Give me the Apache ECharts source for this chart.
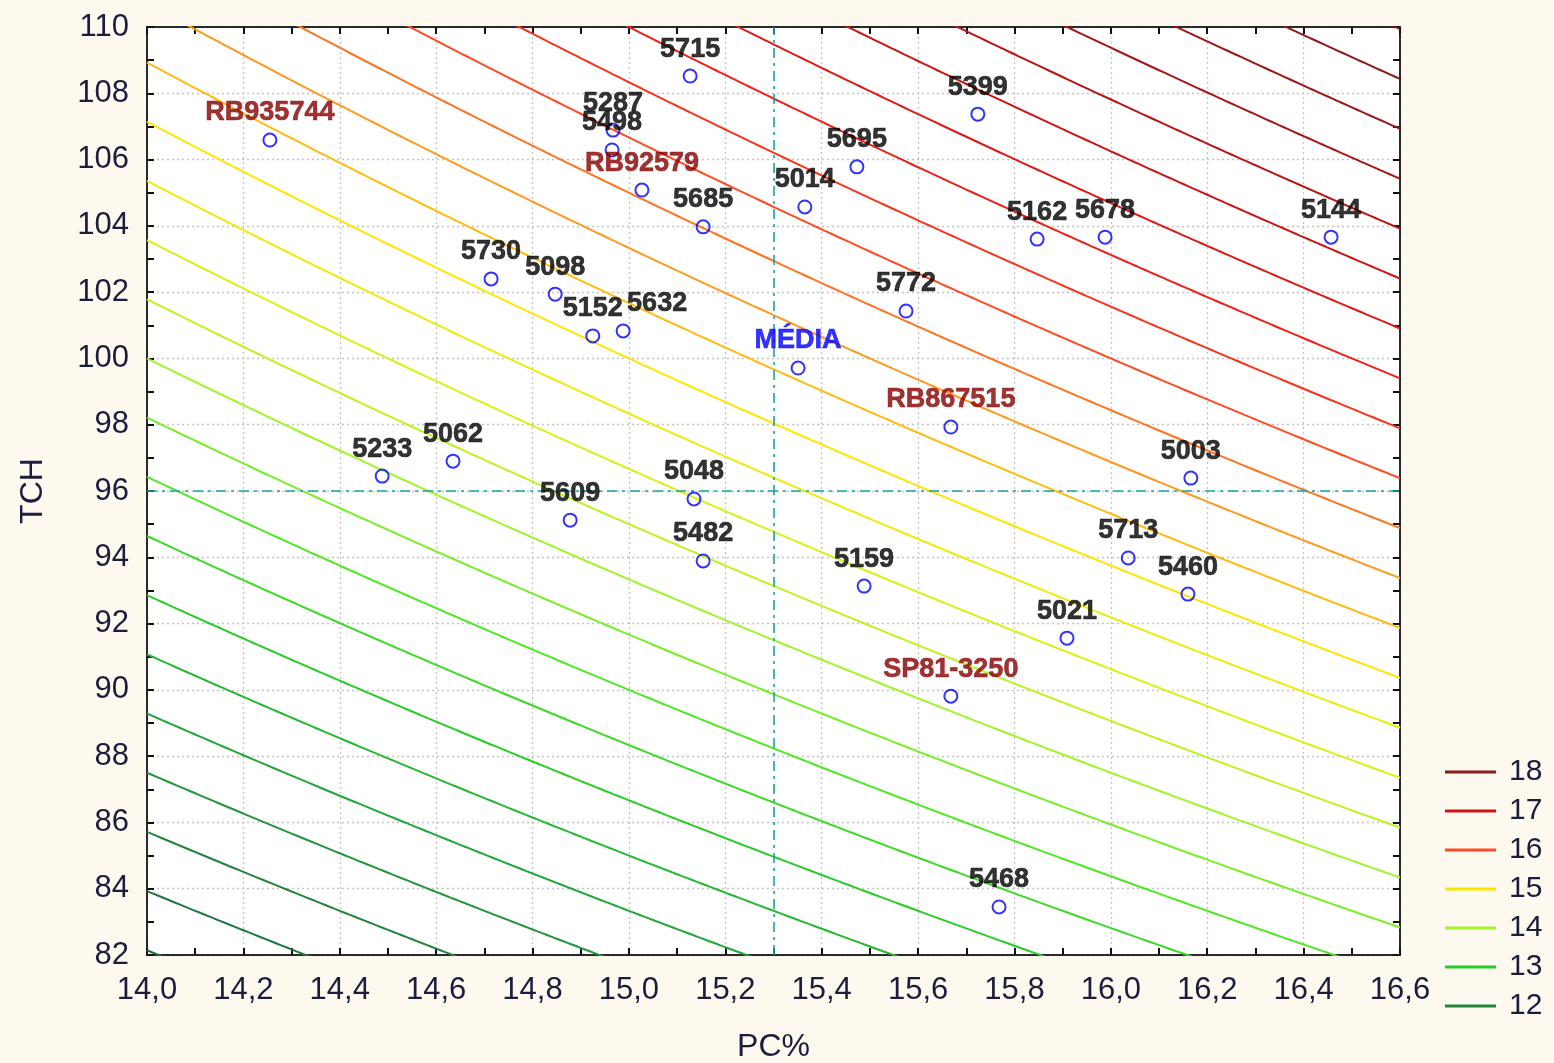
<!DOCTYPE html>
<html>
<head>
<meta charset="utf-8">
<script src="https://cdn.jsdelivr.net/npm/echarts@6/dist/echarts.min.js"></script>
<style>
html,body{margin:0;padding:0;background:#fdf9ef;}
#chart{width:1554px;height:1063px;}
</style>
</head>
<body>
<div id="chart"></div>
<script>
// ---- data ----
const names = ['RB935744','5715','5287','5498','RB92579','5685','5014','5695','5399','5162','5678','5144',
  '5730','5098','5152','5632','5772','MÉDIA','RB867515','5003','5233','5062','5609','5048','5482','5159',
  '5713','5460','5021','SP81-3250','5468'];
const pcValues = [14.255,15.127,14.967,14.965,15.027,15.154,15.365,15.473,15.724,15.847,15.988,16.457,
  14.714,14.847,14.925,14.988,15.575,15.351,15.668,16.166,14.488,14.635,14.878,15.135,15.154,15.488,
  16.036,16.160,15.909,15.668,15.768];
const tchValues = [106.59,108.52,106.89,106.29,105.08,103.97,104.57,105.78,107.37,103.60,103.66,103.66,
  102.40,101.94,100.68,100.83,101.43,99.71,97.93,96.39,96.45,96.90,95.12,95.76,93.89,93.13,
  93.98,92.89,91.56,89.81,83.45];
const meanPC = 15.3;
const meanTCH = 96;
// contour levels of TPH = PC% * TCH / 100
const levels = [11.5,11.75,12,12.25,12.5,12.75,13,13.25,13.5,13.75,14,14.25,14.5,14.75,15,
  15.25,15.5,15.75,16,16.25,16.5,16.75,17,17.25,17.5,17.75,18,18.25];
const legendLevels = ['18','17','16','15','14','13','12'];
const xTicks = {min:14.0, max:16.6, step:0.2};
const yTicks = {min:82, max:110, step:2};

// ---- style ----
const colorStops = [
  [11.5,'#1d6a44'],[12,'#23843f'],[12.5,'#22a63a'],[13,'#28cc28'],[13.5,'#4fe825'],
  [14,'#a0f52a'],[14.5,'#d9f215'],[15,'#ffe600'],[15.25,'#ffbb10'],[15.5,'#ff9a1c'],
  [15.75,'#ff7420'],[16,'#ff4a22'],[16.5,'#ee2018'],[17,'#cc1414'],[17.5,'#a81616'],[18,'#8b1a1a'],[18.25,'#7a1818']
];
function hex(c){return [1,3,5].map(i=>parseInt(c.substr(i,2),16));}
function levelColor(v){
  for(let i=0;i<colorStops.length-1;i++){
    const [a,ca]=colorStops[i],[b,cb]=colorStops[i+1];
    if(v>=a && v<=b){
      const t=(v-a)/(b-a); const A=hex(ca),B=hex(cb);
      return 'rgb('+A.map((x,k)=>Math.round(x+(B[k]-x)*t)).join(',')+')';
    }
  }
  return colorStops[colorStops.length-1][1];
}
const labelOffsets = {'5632':[34,0]};
function labelColor(n){
  if(n==='MÉDIA') return '#0000ff';
  if(/^(RB|SP)/.test(n)) return '#870000';
  return '#000000';
}
const fmt = v => v.toFixed(1).replace('.',',');
const tickFont = {fontFamily:'Liberation Sans, Arial, sans-serif', fontSize:31, color:'#1c1c3c'};

// ---- series ----
const series = [];
levels.forEach(lv=>{
  const pts=[];
  for(let i=0;i<=260;i++){
    const pc = xTicks.min + i*(xTicks.max-xTicks.min)/260;
    pts.push([pc, lv*100/pc]);
  }
  const col = levelColor(lv);
  series.push({
    type:'line', name: Number.isInteger(lv)? String(lv) : 'L'+lv,
    data: pts, showSymbol:false, symbol:'none', silent:true, clip:true,
    lineStyle:{color:col,width:2}, itemStyle:{color:col}, z:2
  });
});
series.push({
  type:'scatter', name:'pts',
  data: names.map((n,i)=>({
    value:[pcValues[i],tchValues[i]], name:n,
    label:{color:labelColor(n), textBorderColor:labelColor(n), offset: labelOffsets[n]||[0,0]}
  })),
  symbol:'circle', symbolSize:13,
  itemStyle:{color:'rgba(255,255,255,0)', borderColor:'#0000ff', borderWidth:2},
  label:{show:true, position:'top', distance:6, formatter:p=>p.name,
    fontFamily:'Liberation Sans, Arial, sans-serif',
    fontWeight:'bold', fontSize:27, textBorderWidth:0.6},
  z:5,
  markLine:{
    silent:true, symbol:'none', animation:false,
    label:{show:false},
    lineStyle:{color:'#1aa3a3', width:1.6, type:[10,5,3,5]},
    data:[{xAxis:meanPC},{yAxis:meanTCH}]
  }
});

const axisCommon = {
  axisLine:{show:true, onZero:false, lineStyle:{color:'#2a2a2a', width:2}},
  axisTick:{show:true, inside:true, length:7, lineStyle:{color:'#111', width:2}},
  minorTick:{show:true, splitNumber:2, length:7, lineStyle:{color:'#111', width:2}},
};

const option = {
  backgroundColor:'#fdf9ef',
  animation:false,
  grid:{left:147, right:154, top:27, bottom:108, show:true, backgroundColor:'#ffffff', borderWidth:0,
    containLabel:false, outerBoundsMode:'none'},
  legend:{
    data: legendLevels, orient:'vertical', left:1440, top:752,
    icon:'rect', itemWidth:51, itemHeight:3, itemGap:9,
    textStyle:{fontFamily:'Liberation Sans, Arial, sans-serif', fontSize:30, lineHeight:30, color:'#1c1c3c', padding:[0,0,0,8]},
    selectedMode:false
  },
  xAxis:[
    Object.assign({
      type:'value', min:xTicks.min, max:xTicks.max, interval:xTicks.step, position:'bottom',
      name:'PC%', nameLocation:'middle', nameGap:76,
      nameTextStyle:{fontFamily:'Liberation Sans, Arial, sans-serif', fontSize:32, color:'#1c1c3c'},
      axisLabel:Object.assign({margin:20, formatter:fmt}, tickFont),
      splitLine:{show:true, lineStyle:{color:'#c4c4c4', width:1.3, type:[2,3]}}
    }, axisCommon),
    Object.assign({
      type:'value', min:xTicks.min, max:xTicks.max, interval:xTicks.step, position:'top',
      axisLabel:{show:false}, splitLine:{show:false}
    }, axisCommon)
  ],
  yAxis:[
    Object.assign({
      type:'value', min:yTicks.min, max:yTicks.max, interval:yTicks.step, position:'left',
      name:'TCH', nameLocation:'middle', nameGap:98, nameRotate:90,
      nameTextStyle:{fontFamily:'Liberation Sans, Arial, sans-serif', fontSize:32, color:'#1c1c3c'},
      axisLabel:Object.assign({margin:18}, tickFont),
      splitLine:{show:true, lineStyle:{color:'#c4c4c4', width:1.3, type:[2,3]}}
    }, axisCommon),
    Object.assign({
      type:'value', min:yTicks.min, max:yTicks.max, interval:yTicks.step, position:'right',
      axisLabel:{show:false}, splitLine:{show:false}
    }, axisCommon)
  ],
  series: series
};
const chart = echarts.init(document.getElementById('chart'));
chart.setOption(option);
</script>
</body>
</html>
